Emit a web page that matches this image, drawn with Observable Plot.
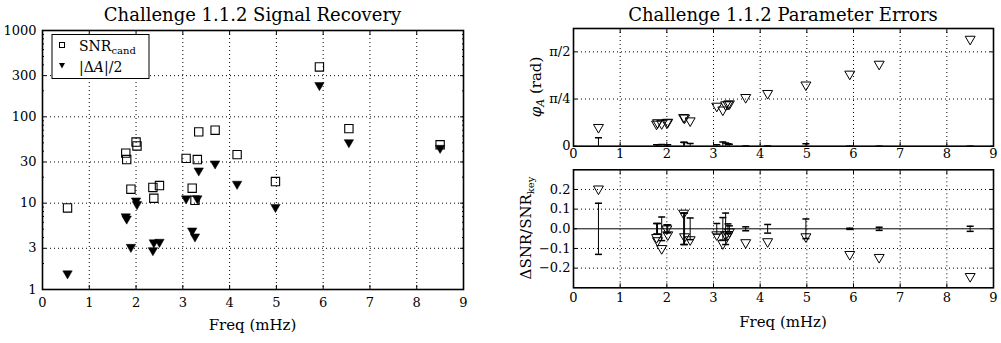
<!DOCTYPE html>
<html><head><meta charset="utf-8">
<script src="https://cdn.jsdelivr.net/npm/d3@7"></script>
<script src="https://cdn.jsdelivr.net/npm/@observablehq/plot@0.6"></script>
<style>
body{margin:0;background:#fff;}
#wrap{position:relative;width:1001px;height:343px;overflow:hidden;background:#fff;}
#wrap > svg{position:absolute;left:0;top:0;}
#wrap text{font-family:"DejaVu Serif","Liberation Serif",serif;}
</style></head><body><div id="wrap"></div>
<script>
// ---- data ----
const freq       = [0.535, 1.78, 1.80, 1.89, 2.00, 2.02, 2.36, 2.38, 2.50, 3.07, 3.20, 3.26, 3.31, 3.34, 3.69, 4.16, 4.98, 5.92, 6.55, 8.50];
const snrCand    = [8.8, 38, 32, 14.5, 51, 46, 15.2, 11.4, 16, 33, 14.9, 10.8, 32, 67, 70, 36.5, 17.8, 378, 73, 47.5];
const halfDeltaA = [1.53, 7.0, 6.6, 3.1, 10.7, 9.7, 2.84, 3.5, 3.55, 11.3, 4.8, 4.1, 11.3, 23.8, 28.7, 16.7, 9.0, 232, 50.6, 43.5];
const phiA       = [0.314, 0.369, 0.393, 0.377, 0.393, 0.401, 0.479, 0.471, 0.424, 0.668, 0.605, 0.691, 0.699, 0.707, 0.813, 0.880, 1.021, 1.202, 1.367, 1.783];
const phiErr     = [0.141, 0.024, 0.024, 0.027, 0.024, 0.024, 0.067, 0.063, 0.047, 0.024, 0.071, 0.055, 0.039, 0.031, 0.008, 0.008, 0.039, 0.004, 0.004, 0.004];
const dSnr       = [0.203, -0.044, -0.06, -0.10, 0.0, -0.03, 0.08, -0.04, -0.055, -0.03, -0.075, -0.03, -0.03, -0.015, -0.07, -0.065, -0.04, -0.13, -0.145, -0.242];
const dSnrErr    = [0.13, 0.027, 0.027, 0.06, 0.02, 0.02, 0.08, 0.08, 0.055, 0.027, 0.057, 0.08, 0.025, 0.015, 0.01, 0.022, 0.05, 0.003, 0.008, 0.013];

const xTicks = [0,1,2,3,4,5,6,7,8,9];
const xGrid = [1,2,3,4,5,6,7,8];
const logTicks = [1,3,10,30,100,300,1000];
const logGrid = [3,10,30,100,300];
const logMinor = [2,4,5,6,7,8,9,20,40,50,60,70,80,90,200,400,500,600,700,800,900];
const phiTicks = [0, Math.PI/4, Math.PI/2];
const phiTickLabels = ["0", "π/4", "π/2"];
const dTicks = [-0.2,-0.1,0,0.1,0.2];
const dTickLabels = ["−0.2","−0.1","0.0","0.1","0.2"];

const rows = freq.map((f,i)=>({freq:f, snr:snrCand[i], amp:halfDeltaA[i], phi:phiA[i], phiErr:phiErr[i], d:dSnr[i], dErr:dSnrErr[i]}));

// ---- symbols ----
const triDown = {draw(ctx,size){const y=Math.sqrt(size/(3*Math.sqrt(3)));const s=Math.sqrt(3)*y;ctx.moveTo(0,2*y);ctx.lineTo(-s,-y);ctx.lineTo(s,-y);ctx.closePath();}};
const capLine = {draw(ctx,size){const w=Math.sqrt(size/Math.PI);ctx.moveTo(-w,0);ctx.lineTo(w,0);}};

const FONT = "'DejaVu Serif', 'Liberation Serif', serif";
const gridStyle = {stroke:"black", strokeOpacity:1, strokeWidth:1, strokeDasharray:"1,3"};
const baseStyle = {fontFamily:FONT, fontSize:"13px", background:"transparent", color:"black", overflow:"visible"};

function frameAxes(xPad, yTicks, yFmt, yPad, extra=[]) {
  return [
    Plot.axisX({ticks:xTicks, tickSize:0, tickPadding:xPad, tickFormat:d=>String(d), label:null}),
    Plot.axisX({ticks:xTicks, anchor:"bottom", tickSize:-4, tickFormat:()=>"", label:null}),
    Plot.axisX({ticks:xTicks, anchor:"top", tickSize:-4, tickFormat:()=>"", label:null}),
    Plot.axisY({ticks:yTicks, tickSize:0, tickPadding:yPad, tickFormat:yFmt, label:null}),
    Plot.axisY({ticks:yTicks, anchor:"left", tickSize:-4, tickFormat:()=>"", label:null}),
    Plot.axisY({ticks:yTicks, anchor:"right", tickSize:-4, tickFormat:()=>"", label:null}),
    ...extra,
    Plot.frame({stroke:"black", strokeWidth:1.6})
  ];
}

const wrap = document.getElementById("wrap");

// ---- left: signal recovery ----
const left = Plot.plot({
  width:500, height:343, marginLeft:42, marginRight:37, marginTop:30, marginBottom:54,
  x:{domain:[0,9]}, y:{type:"log", domain:[1,1000]},
  style:baseStyle,
  marks:[
    Plot.gridX(xGrid, gridStyle),
    Plot.gridY(logGrid, gridStyle),
    Plot.dot(rows, {x:"freq", y:"snr", symbol:"square", r:4.7, stroke:"black", strokeWidth:1.1, fill:"none"}),
    Plot.dot(rows, {x:"freq", y:"amp", symbol:triDown, r:3.5, fill:"black", stroke:"black", strokeWidth:0.5}),
    ...frameAxes(8, logTicks, d=>String(d), 6, [
      Plot.axisY({ticks:logMinor, anchor:"left", tickSize:-2, tickFormat:()=>"", label:null}),
      Plot.axisY({ticks:logMinor, anchor:"right", tickSize:-2, tickFormat:()=>"", label:null})
    ])
  ]
});
wrap.appendChild(left);

// ---- right top: phase errors ----
const rt = Plot.plot({
  width:501, height:170, marginLeft:73, marginRight:8, marginTop:28, marginBottom:24.3,
  x:{domain:[0,9]}, y:{domain:[0,1.96]},
  style:baseStyle,
  marks:[
    Plot.gridX(xGrid, gridStyle),
    Plot.gridY([Math.PI/4, Math.PI/2], gridStyle),
    Plot.ruleX(rows, {x:"freq", y1:d=>-d.phiErr, y2:d=>d.phiErr, stroke:"black", clip:true}),
    Plot.dot(rows, {x:"freq", y:d=>d.phiErr, symbol:capLine, r:3.5, stroke:"black", clip:true}),
    Plot.dot(rows, {x:"freq", y:"phi", symbol:triDown, r:3.7, stroke:"black", strokeWidth:1, fill:"none"}),
    ...frameAxes(3, phiTicks, (d,i)=>phiTickLabels[i], 3)
  ]
});
rt.style.left = "500px";
wrap.appendChild(rt);

// ---- right bottom: SNR errors ----
const rb = Plot.plot({
  width:501, height:343, marginLeft:73, marginRight:8, marginTop:169.3, marginBottom:55.7,
  x:{domain:[0,9]}, y:{domain:[-0.3,0.3]},
  style:baseStyle,
  marks:[
    Plot.gridX(xGrid, gridStyle),
    Plot.gridY([-0.2,-0.1,0.1,0.2], gridStyle),
    Plot.ruleY([0], {stroke:"black", strokeWidth:1}),
    Plot.ruleX(rows, {x:"freq", y1:d=>-d.dErr, y2:d=>d.dErr, stroke:"black"}),
    Plot.dot(rows, {x:"freq", y:d=>d.dErr, symbol:capLine, r:3.5, stroke:"black"}),
    Plot.dot(rows, {x:"freq", y:d=>-d.dErr, symbol:capLine, r:3.5, stroke:"black"}),
    Plot.dot(rows, {x:"freq", y:"d", symbol:triDown, r:3.7, stroke:"black", strokeWidth:1, fill:"none"}),
    ...frameAxes(4.5, dTicks, (d,i)=>dTickLabels[i], 3)
  ]
});
rb.style.left = "500px";
wrap.appendChild(rb);

// ---- overlay: titles, axis labels, legend ----
const NS = "http://www.w3.org/2000/svg";
const ov = document.createElementNS(NS, "svg");
ov.setAttribute("width", 1001); ov.setAttribute("height", 343);
ov.style.pointerEvents = "none";
ov.innerHTML = `
  <text x="252.5" y="20.5" font-size="18" text-anchor="middle">Challenge 1.1.2 Signal Recovery</text>
  <text x="783" y="21" font-size="18" text-anchor="middle">Challenge 1.1.2 Parameter Errors</text>
  <text x="252.5" y="329.5" font-size="15" text-anchor="middle">Freq (mHz)</text>
  <text x="783" y="327" font-size="15" text-anchor="middle">Freq (mHz)</text>
  <text transform="translate(541,87) rotate(-90)" font-size="15" text-anchor="middle"><tspan font-style="italic">φ</tspan><tspan font-size="11" dy="3" font-style="italic">A</tspan><tspan dy="-3"> (rad)</tspan></text>
  <text transform="translate(531,228) rotate(-90)" font-size="15" text-anchor="middle">ΔSNR/SNR<tspan font-size="10" dy="3">key</tspan></text>
  <rect x="52" y="34.5" width="97" height="44" fill="white" stroke="black" stroke-width="1"/>
  <rect x="59.5" y="42.5" width="5" height="5" fill="none" stroke="black" stroke-width="1"/>
  <path d="M59,63 L65,63 L62,68.5 Z" fill="black"/>
  <text x="79" y="51" font-size="14">SNR<tspan font-size="10" dy="3">cand</tspan></text>
  <text x="79" y="72" font-size="14">|Δ<tspan font-style="italic">A</tspan>|/2</text>
`;
wrap.appendChild(ov);
</script></body></html>
